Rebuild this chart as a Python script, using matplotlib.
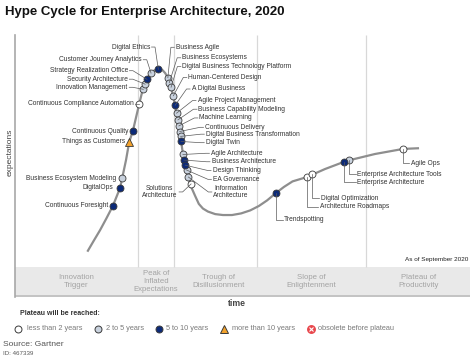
import matplotlib.pyplot as plt
from matplotlib.lines import Line2D
from matplotlib.transforms import IdentityTransform

plt.rcParams['font.family'] = ['Liberation Sans', 'DejaVu Sans']

# ---- data ------------------------------------------------------------
phase_names = ["Innovation\nTrigger", "Peak of\nInflated\nExpectations",
               "Trough of\nDisillusionment", "Slope of\nEnlightenment",
               "Plateau of\nProductivity"]
phase_centers = [13.4, 31.0, 44.8, 65.1, 88.6]
phase_bounds = [27.0, 35.0, 53.2, 77.1]

# hype curve (time, expectations)
curve_t = [15.9, 17.3, 18.7, 20.1, 21.5, 23.1, 24.4, 25.1, 25.9, 27.3, 28.1,
           29.0, 29.9, 30.6, 31.4, 32.3, 33.0, 33.6, 34.3, 35.2, 35.8, 36.5,
           37.1, 38.0, 38.7, 39.6, 40.4, 41.3, 42.4, 44.0, 45.7, 47.7, 49.7,
           51.7, 53.6, 55.4, 57.3, 59.1, 61.0, 64.2, 68.1, 72.8, 79.1, 85.3,
           88.8]
curve_e = [6.6, 11.3, 15.9, 21.0, 26.3, 34.1, 46.1, 53.9, 58.6, 70.3, 76.7,
           81.0, 83.6, 84.7, 85.3, 85.1, 83.6, 81.6, 77.5, 69.7, 62.1, 54.3,
           46.1, 38.8, 34.6, 30.6, 27.2, 25.2, 23.9, 22.8, 22.4, 22.4, 23.1,
           24.4, 26.3, 28.7, 31.8, 34.5, 36.9, 38.8, 42.2, 45.7, 48.7, 50.9,
           51.2]

tech_names = [
    "Continuous Foresight", "DigitalOps", "Business Ecosystem Modeling",
    "Things as Customers", "Continuous Quality",
    "Continuous Compliance Automation", "Innovation Management",
    "Security Architecture", "Strategy Realization Office",
    "Customer Journey Analytics", "Digital Ethics",
    "Business Agile", "Business Ecosystems",
    "Digital Business Technology Platform", "Human-Centered Design",
    "A Digital Business", "Agile Project Management",
    "Business Capability Modeling", "Machine Learning",
    "Continuous Delivery", "Digital Business Transformation", "Digital Twin",
    "Agile Architecture", "Business Architecture", "Design Thinking",
    "EA Governance", "Information\nArchitecture", "Solutions\nArchitecture",
    "Trendspotting", "Architecture Roadmaps", "Digital Optimization",
    "Enterprise Architecture", "Enterprise Architecture Tools", "Agile Ops",
]
tech_time = [21.5, 23.1, 23.6, 25.1, 25.9, 27.3, 28.2, 28.6, 29.0, 29.9, 31.5,
             33.6, 33.9, 34.3, 34.8, 35.2, 35.5, 35.8, 36.0, 36.2, 36.4, 36.5,
             36.9, 37.1, 37.4, 37.7, 38.1, 38.7,
             57.3, 64.1, 65.3, 72.4, 73.5, 85.3]
tech_expect = [26.3, 34.1, 38.4, 53.9, 58.6, 70.3, 76.6, 78.8, 80.9, 83.6, 85.2,
               81.6, 79.4, 77.5, 73.8, 69.7, 66.3, 63.4, 60.8, 58.4, 56.3, 54.1,
               48.5, 46.1, 43.9, 41.8, 38.8, 35.8,
               31.8, 38.7, 40.0, 45.3, 46.1, 51.0]
# years to plateau: 0 = <2, 1 = 2-5, 2 = 5-10, 3 = >10
tech_plateau = [2, 2, 1, 3, 2, 0, 1, 1, 2, 1, 2,
                1, 1, 1, 1, 2, 1, 1, 1, 1, 1, 2,
                1, 2, 2, 1, 1, 0,
                2, 0, 0, 2, 1, 0]

legend_labels = ["less than 2 years", "2 to 5 years", "5 to 10 years",
                 "more than 10 years", "obsolete before plateau"]

# ---- label layout: offset from dot in px (right, down), anchor side, leader
label_layout = [
    (-5, 0, "r", None), (-6.7, 0, "r", None), (-5.8, 0.5, "r", None),
    (-4.5, 0, "r", None), (-4.7, 0.5, "r", None), (-5.7, 0, "r", "side"),
    (-15.6, -2, "r", "side"), (-17.3, -5, "r", "side"), (-19, -8.6, "r", "side"),
    (-9.3, -13.3, "r", "side"), (-8.3, -22.3, "r", "side"),
    (8, -30.4, "l", "side"), (13, -25, "l", "side"), (11.3, -20.6, "l", "side"),
    (15, -18.4, "l", "side"), (16.4, -16.3, "l", "side"),
    (21, -12.6, "l", "side"), (20.6, -10.7, "l", "side"),
    (20.6, -8, "l", "side"), (25.3, -4.2, "l", "side"),
    (25.2, -2.2, "l", "side"), (24.7, 1.2, "l", "side"),
    (28, -1.2, "l", "side"), (27.7, 1.7, "l", "side"), (27.4, 5.3, "l", "side"),
    (26.4, 9.3, "l", "side"), (25, 15, "l", "side"), (-13.5, 8, "r", "side"),
    (8.5, 26.7, "l", "down"), (13.3, 29.4, "l", "down"), (8.7, 24, "l", "down"),
    (13, 20.3, "l", "down"), (8, 14, "l", "down"), (7.4, 14.6, "l", "down"),
]

COL_TEXT = "#333333"
COL_EDGE = "#3a3a3a"
FACE = ["white", "#c9d2de", "#0c2a78", "#f2a22c"]
MARK = ["o", "o", "o", "^"]
LABEL_FS = 4.8

W, H = 474, 361
fig = plt.figure(figsize=(W / 100, H / 100), dpi=100)

# chart area: x 15..470 px, y 35..297 px
ax = fig.add_axes([15 / W, (H - 297) / H, 455 / W, 262 / H])
band_bottom = -12.93
ax.set_xlim(0, 100)
ax.set_ylim(band_bottom, 100)
ax.set_xticks([])
ax.set_yticks([])
for s in ["top", "right", "bottom"]:
    ax.spines[s].set_visible(False)
ax.spines["left"].set_color("#a8a8a8")
ax.spines["left"].set_linewidth(1.2)

# phase band
ax.axhspan(band_bottom, 0, facecolor="#e9e9e9", edgecolor="none", zorder=0)
ax.axhline(band_bottom + 0.4, color="#bdbdbd", lw=1.2, zorder=1)
ax.vlines(phase_bounds, 0, 100, colors="#d8d8d8", lw=0.9, zorder=1)
for name, xc in zip(phase_names, phase_centers):
    ax.text(xc, -6.3, name, ha="center", va="center", fontsize=5.6,
            color="#a3a3a3", linespacing=1.15, zorder=2)
ax.text(99.6, 3.3, "As of September 2020", ha="right", va="center",
        fontsize=4.6, color="#222222")

# the curve
ax.plot(curve_t, curve_e, color="#8e8e8e", lw=1.6, solid_joinstyle="round",
        solid_capstyle="butt", zorder=2)

# labels and leaders
fig.canvas.draw()
for name, t, e, (dx, dy, side, style) in zip(tech_names, tech_time,
                                            tech_expect, label_layout):
    ha = "right" if side == "r" else "left"
    ax.annotate(name, (t, e), xytext=(dx, -dy), textcoords="offset pixels",
                ha=ha, va="center", fontsize=LABEL_FS, color=COL_TEXT,
                multialignment="center", linespacing=1.05, zorder=5)
    if style is None:
        continue
    px, py = ax.transData.transform((t, e))
    if style == "side":
        sgn = 1 if side == "r" else -1
        xs = [px + dx + sgn * 1.5, px + dx + sgn * 5, px]
        ys = [py - dy, py - dy, py]
    else:
        xs = [px, px, px + dx - 1.5]
        ys = [py, py - dy, py - dy]
    fig.add_artist(Line2D(xs, ys, transform=IdentityTransform(),
                          color="#5a5a5a", lw=0.5, zorder=3))

for k in range(4):
    ts = [t for t, p in zip(tech_time, tech_plateau) if p == k]
    es = [e for e, p in zip(tech_expect, tech_plateau) if p == k]
    ax.plot(ts, es, linestyle="none", marker=MARK[k],
            markersize=5.6 if k == 3 else 5.0, markerfacecolor=FACE[k],
            markeredgecolor=COL_EDGE, markeredgewidth=0.6, zorder=6)

# ---- figure-level texts in pixel coordinates
lay = fig.add_axes([0, 0, 1, 1])
lay.set_xlim(0, W)
lay.set_ylim(H, 0)
lay.axis("off")
lay.patch.set_alpha(0)

lay.text(5, 12, "Hype Cycle for Enterprise Architecture, 2020", ha="left",
         va="center", fontsize=9.5, fontweight="bold", color="#111111")
lay.text(10, 152, "expectations", rotation=90, ha="center", va="center",
         fontsize=6, color="#444444")
lay.text(237, 303.5, "time", ha="center", va="center", fontsize=6.2,
         fontweight="bold", color="#444444")
lay.text(20, 313.5, "Plateau will be reached:", ha="left", va="center",
         fontsize=5.0, fontweight="bold", color="#333333")

leg_marker_x = [18.3, 98.3, 159.3, 224, 311]
leg_text_x = [26.7, 105.7, 165.7, 231.7, 317.7]
leg_y = 328.5
for k in range(5):
    if k < 4:
        lay.plot(leg_marker_x[k], leg_y, marker=MARK[k],
                 markersize=5.6 if k == 3 else 5.0, markerfacecolor=FACE[k],
                 markeredgecolor=COL_EDGE, markeredgewidth=0.7)
    else:
        lay.plot(leg_marker_x[k], leg_y, marker="o", markersize=5.4,
                 markerfacecolor="#e8474c", markeredgecolor="#e8474c")
        lay.plot(leg_marker_x[k], leg_y, marker="x", markersize=2.8,
                 markeredgecolor="white", markeredgewidth=0.8)
    lay.text(leg_text_x[k], leg_y, legend_labels[k], ha="left", va="center",
             fontsize=5.3, color="#7a7a7a")

lay.text(3, 344, "Source: Gartner", ha="left", va="center", fontsize=6.1,
         color="#555555")
lay.text(3, 353.5, "ID: 467339", ha="left", va="center", fontsize=4.4,
         color="#555555")

fig.savefig("out.png", dpi=100)
